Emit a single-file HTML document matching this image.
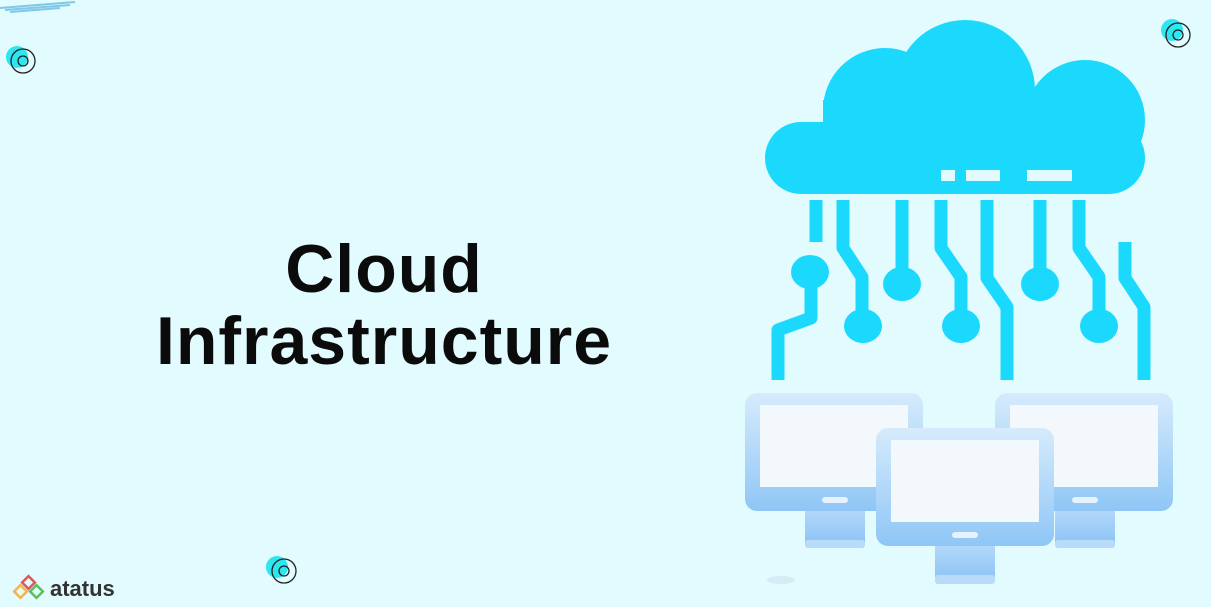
<!DOCTYPE html>
<html><head><meta charset="utf-8"><style>
html,body{margin:0;padding:0}
body{width:1211px;height:607px;background:#e2fbfe;position:relative;overflow:hidden;font-family:"Liberation Sans",sans-serif}
h1{position:absolute;left:0;width:768px;top:233px;margin:0;text-align:center;font-size:68px;line-height:72px;font-weight:bold;color:#0b0b0b;letter-spacing:1px}
.logo{position:absolute;left:50px;top:576px;font-size:22px;color:#333;font-weight:600}
</style></head><body>
<svg width="1211" height="607" style="position:absolute;left:0;top:0">
<defs>
<linearGradient id="mg" x1="0" y1="0" x2="0" y2="1"><stop offset="0" stop-color="#d6ebfc"/><stop offset="1" stop-color="#8fc6f6"/></linearGradient>
<linearGradient id="sg" x1="0" y1="0" x2="0" y2="1"><stop offset="0" stop-color="#b9dcfa"/><stop offset="1" stop-color="#8ec4f5"/></linearGradient>
</defs>
<g stroke="#7fc8e8" stroke-width="2"><path d="M0 8 L75 2 M5 10 L70 5 M10 12 L60 8"/></g>
<circle cx="17" cy="57" r="11" fill="#2ee6f0"/><circle cx="23" cy="61" r="12" fill="none" stroke="#222" stroke-width="1.3"/><circle cx="23" cy="61" r="5" fill="none" stroke="#222" stroke-width="1.3"/>
<circle cx="1172" cy="30" r="11" fill="#2ee6f0"/><circle cx="1178" cy="35" r="12" fill="none" stroke="#222" stroke-width="1.3"/><circle cx="1178" cy="35" r="5" fill="none" stroke="#222" stroke-width="1.3"/>
<circle cx="277" cy="567" r="11" fill="#2ee6f0"/><circle cx="284" cy="571" r="12" fill="none" stroke="#222" stroke-width="1.3"/><circle cx="284" cy="571" r="5" fill="none" stroke="#222" stroke-width="1.3"/>
<g fill="none" stroke-width="2.5"><rect x="24" y="578" width="9" height="9" stroke="#e05555" transform="rotate(45 28.5 582.5)"/><rect x="16" y="587" width="9" height="9" stroke="#f0b84a" transform="rotate(45 20.5 591.5)"/><rect x="32" y="587" width="9" height="9" stroke="#5cbf5c" transform="rotate(45 36.5 591.5)"/></g>
<g fill="#1bd9fc">
<circle cx="965" cy="90" r="70"/><circle cx="885" cy="110" r="62"/><circle cx="1085" cy="120" r="60"/>
<rect x="765" y="122" width="380" height="72" rx="36"/>
<rect x="823" y="100" width="300" height="60"/>
</g>
<g fill="#e2fbfe"><rect x="941" y="170" width="14" height="11"/><rect x="966" y="170" width="34" height="11"/><rect x="1027" y="170" width="45" height="11"/></g>
<g stroke="#1bd9fc" stroke-width="13" fill="none" stroke-linejoin="round">
<path d="M816 200 V242"/><path d="M811 272 V318 L778 330 V380"/>
<path d="M843 200 V248 L862 277 V318"/>
<path d="M902 200 V280"/>
<path d="M941 200 V248 L961 277 V318"/>
<path d="M987 200 V278 L1007 307 V380"/>
<path d="M1040 200 V280"/>
<path d="M1079 200 V248 L1099 277 V318"/>
<path d="M1125 242 V278 L1144 307 V380"/>
</g>
<g fill="#1bd9fc">
<ellipse cx="810" cy="272" rx="19" ry="17"/><ellipse cx="863" cy="326" rx="19" ry="17"/><ellipse cx="902" cy="284" rx="19" ry="17"/>
<ellipse cx="961" cy="326" rx="19" ry="17"/><ellipse cx="1040" cy="284" rx="19" ry="17"/><ellipse cx="1099" cy="326" rx="19" ry="17"/>
</g>
<g>
<rect x="805" y="505" width="60" height="38" fill="url(#sg)"/><rect x="805" y="540" width="60" height="8" rx="3" fill="#b8dbfa"/>
<rect x="745" y="393" width="178" height="118" rx="12" fill="url(#mg)"/><rect x="760" y="405" width="148" height="82" fill="#f3f8fd"/><rect x="822" y="497" width="26" height="6" rx="3" fill="#e6f2fd"/>
<rect x="1055" y="505" width="60" height="38" fill="url(#sg)"/><rect x="1055" y="540" width="60" height="8" rx="3" fill="#b8dbfa"/>
<rect x="995" y="393" width="178" height="118" rx="12" fill="url(#mg)"/><rect x="1010" y="405" width="148" height="82" fill="#f3f8fd"/><rect x="1072" y="497" width="26" height="6" rx="3" fill="#e6f2fd"/>
<rect x="935" y="540" width="60" height="38" fill="url(#sg)"/><rect x="935" y="575" width="60" height="9" rx="3" fill="#b8dbfa"/>
<rect x="876" y="428" width="178" height="118" rx="12" fill="url(#mg)"/><rect x="891" y="440" width="148" height="82" fill="#f3f8fd"/><rect x="952" y="532" width="26" height="6" rx="3" fill="#e6f2fd"/>
<ellipse cx="781" cy="580" rx="14" ry="4" fill="#d4ecf5"/>
</g>
</svg>
<h1>Cloud<br>Infrastructure</h1>
<div class="logo">atatus</div>
</body></html>
